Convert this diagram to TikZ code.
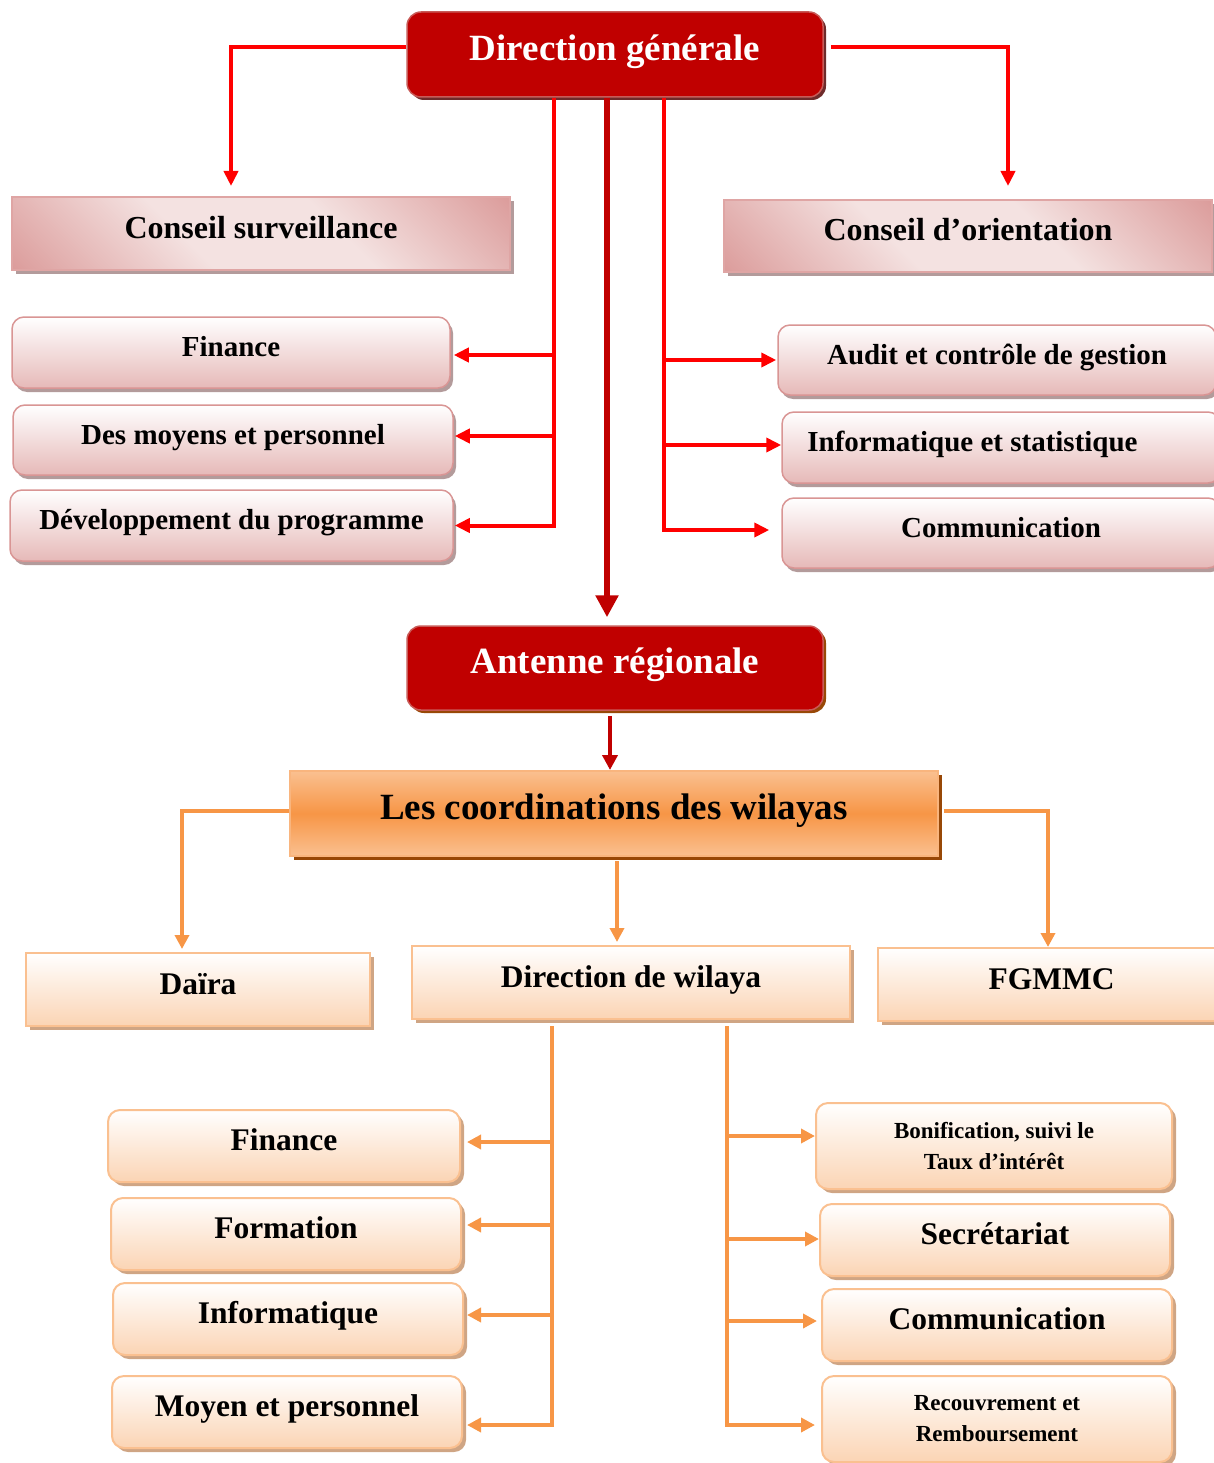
\documentclass[tikz,border=0pt]{standalone}
\usepackage{fontspec}
\setmainfont{Liberation Serif}
\usetikzlibrary{arrows.meta,shadows}
\definecolor{dkred}{HTML}{C00000}
\definecolor{lnred}{HTML}{FF0000}
\definecolor{rbord}{HTML}{C85A57}
\definecolor{shdDG}{HTML}{6E2B2B}
\definecolor{pinkD}{HTML}{D99594}
\definecolor{pinkL}{HTML}{F4E2E1}
\definecolor{pinkM}{HTML}{E6B9B8}
\definecolor{shpink}{HTML}{B39B9B}
\definecolor{orng}{HTML}{F79646}
\definecolor{orngL}{HTML}{FAC090}
\definecolor{peach}{HTML}{FBD4B4}
\definecolor{brwn}{HTML}{984807}
\definecolor{shpeach}{HTML}{CFA584}
\pgfdeclareverticalshading{pinkdiag}{100bp}{color(0bp)=(pinkD); color(12bp)=(pinkD); color(40bp)=(pinkL); color(60bp)=(pinkL); color(88bp)=(pinkD); color(100bp)=(pinkD)}
\tikzset{
  sz/.style={font=\bfseries\fontsize{#1}{#1}\selectfont, text height=0.75*#1pt, text depth=0.44*#1pt},
  redbox/.style={rectangle, rounded corners=14pt, fill=dkred, draw=rbord, line width=1.5pt, text=white,
    general shadow={fill=#1, shadow xshift=3pt, shadow yshift=-3pt}},
  pinkrect/.style={rectangle, shading=pinkdiag, shading angle=-45,
    draw=pinkD!85!white, line width=2pt, general shadow={fill=shpink, shadow xshift=4pt, shadow yshift=-4pt}},
  pinkround/.style={rectangle, rounded corners=12pt, top color=white, bottom color=pinkM,
    draw=pinkD, line width=1.5pt, general shadow={fill=shpink, shadow xshift=3pt, shadow yshift=-4pt}},
  orangebig/.style={rectangle, top color=orngL, bottom color=orngL, middle color=orng,
    draw=orng!70!white, line width=2pt, general shadow={fill=brwn, shadow xshift=4pt, shadow yshift=-4pt}},
  peachrect/.style={rectangle, top color=white, bottom color=peach, draw=orngL, line width=2pt,
    general shadow={fill=shpeach, shadow xshift=4pt, shadow yshift=-4pt}},
  peachround/.style={peachrect, rounded corners=12pt},
  rl/.style={draw=lnred, line width=4pt, -{Triangle[length=15pt,width=14pt]}},
  cl/.style={draw=dkred, line width=6.5pt, -{Triangle[length=22pt,width=22pt]}},
  cl2/.style={draw=dkred, line width=4pt, -{Triangle[length=15pt,width=15pt]}},
  ol/.style={draw=orng, line width=3.5pt, -{Triangle[length=14pt,width=14pt]}},
}
\begin{document}
\begin{tikzpicture}[x=1pt,y=-1pt]
\useasboundingbox (0,0) rectangle (1214,1463);
\clip (0,0) rectangle (1214,1463);

% top level
\node[redbox=shdDG, sz=37, minimum width=416pt, minimum height=85pt] (DG) at (615,54.5) {Direction générale};
\node[pinkrect, sz=32, minimum width=498pt, minimum height=73pt] (CSv) at (261,233.5) {Conseil surveillance};
\node[pinkrect, sz=32, minimum width=488pt, minimum height=72pt] (COr) at (968,236) {Conseil d’orientation};

\node[pinkround, sz=29, minimum width=438pt, minimum height=71pt] (L1) at (231,352.5) {Finance};
\node[pinkround, sz=29, minimum width=440pt, minimum height=70pt] (L2) at (233,440) {Des moyens et personnel};
\node[pinkround, sz=29, minimum width=443pt, minimum height=71pt] (L3) at (231.5,525.5) {Développement du programme};

\node[pinkround, sz=29, minimum width=438pt, minimum height=70pt] (R1) at (997,360) {Audit et contrôle de gestion};
\node[pinkround, sz=29, minimum width=438pt, minimum height=71pt] (R2) at (1001,447.5) {\hspace*{-57pt}Informatique et statistique};
\node[pinkround, sz=29, minimum width=438pt, minimum height=70pt] (R3) at (1001,533) {Communication};

\node[redbox=brwn, sz=37, minimum width=416pt, minimum height=84pt] (AR) at (615,668) {Antenne régionale};
\node[orangebig, sz=37, minimum width=648pt, minimum height=85pt] (COORD) at (614,813.5) {Les coordinations des wilayas};

\node[peachrect, sz=31.5, minimum width=344pt, minimum height=73pt] (DA) at (198,989.5) {Daïra};
\node[peachrect, sz=31.5, minimum width=438pt, minimum height=73pt] (DW) at (631,982.5) {Direction de wilaya};
\node[peachrect, sz=31.5, minimum width=347pt, minimum height=73pt] (FG) at (1051.5,984.5) {FGMMC};

\node[peachround, sz=31.5, minimum width=352pt, minimum height=72pt] (F1) at (284,1146) {Finance};
\node[peachround, sz=31.5, minimum width=350pt, minimum height=72pt] (F2) at (286,1234) {Formation};
\node[peachround, sz=31.5, minimum width=350pt, minimum height=72pt] (F3) at (288,1319) {Informatique};
\node[peachround, sz=31.5, minimum width=350pt, minimum height=72pt] (F4) at (287,1412) {Moyen et personnel};

\node[peachround, font=\bfseries\fontsize{23}{31}\selectfont, align=center, minimum width=356pt, minimum height=86pt] (G1) at (994,1146) {Bonification, suivi le\\Taux d’intérêt};
\node[peachround, sz=31.5, minimum width=350pt, minimum height=72pt] (G2) at (995,1240) {Secrétariat};
\node[peachround, sz=31.5, minimum width=350pt, minimum height=72pt] (G3) at (997,1325) {Communication};
\node[peachround, font=\bfseries\fontsize{23}{31}\selectfont, align=center, minimum width=350pt, minimum height=86pt] (G4) at (997,1419) {Recouvrement et\\Remboursement};

% red connectors (top)
\coordinate (csA) at ([xshift=-30pt,yshift=10pt]CSv.north);
\coordinate (coA) at ([xshift=40pt,yshift=13pt]COr.north);
\draw[rl] ([yshift=7.5pt]DG.west) -| (csA);
\draw[rl] ([xshift=7pt,yshift=7.5pt]DG.east) -| (coA);

\coordinate (lv) at ([xshift=-61pt]DG.south);
\coordinate (l1e) at ([xshift=3pt,yshift=-2.5pt]L1.east);
\coordinate (l2e) at ([xshift=1pt,yshift=4pt]L2.east);
\coordinate (l3e) at ([xshift=1pt]L3.east);
\draw[rl] (lv) |- (l3e);
\draw[rl] (lv |- l1e) -- (l1e);
\draw[rl] (lv |- l2e) -- (l2e);

\coordinate (rv) at ([xshift=49pt]DG.south);
\coordinate (r1w) at ([xshift=-1pt]R1.west);
\coordinate (r2w) at ([yshift=2.5pt]R2.west);
\coordinate (r3w) at ([xshift=-12pt,yshift=3pt]R3.west);
\draw[rl] (rv) |- (r3w);
\draw[rl] (rv |- r1w) -- (r1w);
\draw[rl] (rv |- r2w) -- (r2w);

\draw[cl] ([xshift=-8pt]DG.south) -- ([xshift=-8pt,yshift=8pt]AR.north);
\draw[cl2] ([xshift=-5pt,yshift=-5pt]AR.south) -- ([xshift=-4pt]COORD.north);

% orange connectors
\draw[ol] ([yshift=2.5pt]COORD.west) -| ([xshift=-16pt,yshift=3pt]DA.north);
\draw[ol] ([xshift=5pt,yshift=2.5pt]COORD.east) -| ([xshift=-3.5pt]FG.north);
\draw[ol] ([xshift=3pt,yshift=-4pt]COORD.south) -- ([xshift=-14pt,yshift=3pt]DW.north);

\coordinate (dl) at ([xshift=-79pt,yshift=-6pt]DW.south);
\coordinate (dr) at ([xshift=96pt,yshift=-6pt]DW.south);
\coordinate (f1e) at ([xshift=6pt,yshift=4pt]F1.east);
\coordinate (f2e) at ([xshift=5pt,yshift=9pt]F2.east);
\coordinate (f3e) at ([xshift=3pt,yshift=4pt]F3.east);
\coordinate (f4e) at ([xshift=4pt,yshift=-13pt]F4.east);
\draw[ol] (dl) |- (f4e);
\draw[ol] (dl |- f1e) -- (f1e);
\draw[ol] (dl |- f2e) -- (f2e);
\draw[ol] (dl |- f3e) -- (f3e);

\coordinate (g1w) at ([yshift=10pt]G1.west);
\coordinate (g2w) at ([yshift=1pt]G2.west);
\coordinate (g3w) at ([xshift=-4pt,yshift=4pt]G3.west);
\coordinate (g4w) at ([xshift=-6pt,yshift=-6pt]G4.west);
\draw[ol] (dr) |- (g4w);
\draw[ol] (dr |- g1w) -- (g1w);
\draw[ol] (dr |- g2w) -- (g2w);
\draw[ol] (dr |- g3w) -- (g3w);
\end{tikzpicture}
\end{document}
